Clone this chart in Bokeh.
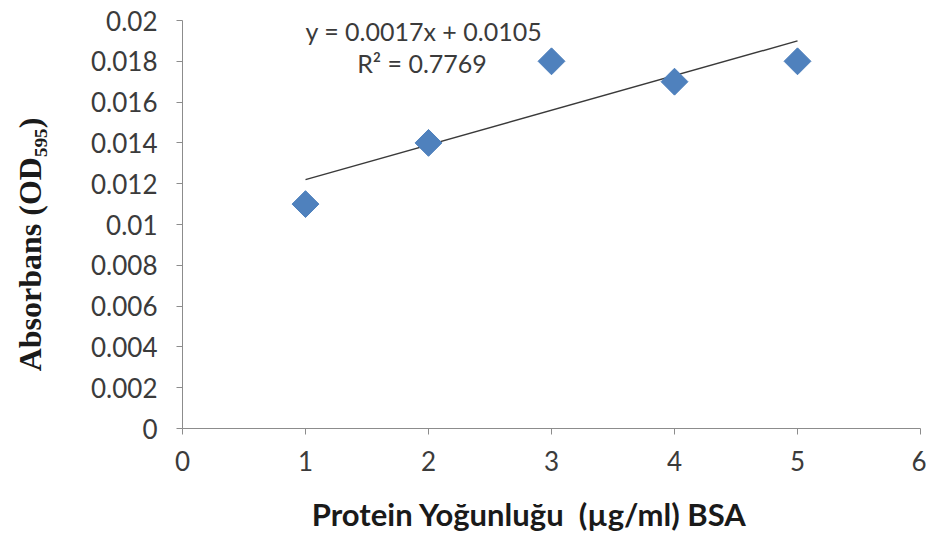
import numpy as np
from bokeh.plotting import figure
from bokeh.models import Range1d, FixedTicker, Label
from bokeh.embed import file_html
from bokeh.resources import INLINE

# ---- data ----
concentration = [1, 2, 3, 4, 5]
absorbance = [0.011, 0.014, 0.018, 0.017, 0.018]

x_ticks = [0, 1, 2, 3, 4, 5, 6]
y_ticks = [0, 0.002, 0.004, 0.006, 0.008, 0.01, 0.012, 0.014, 0.016, 0.018, 0.02]
y_tick_labels = ["0", "0.002", "0.004", "0.006", "0.008", "0.01",
                 "0.012", "0.014", "0.016", "0.018", "0.02"]

x_title = "Protein Yoğunluğu\u00a0 (µg/ml) BSA"
y_title = "Absorbans (OD₅₉₅)"

# ---- linear fit (trendline) ----
xs = np.array(concentration, dtype=float)
ys = np.array(absorbance, dtype=float)
slope, intercept = np.polyfit(xs, ys, 1)
pred = slope * xs + intercept
r2 = 1 - np.sum((ys - pred) ** 2) / np.sum((ys - ys.mean()) ** 2)
eq_text = f"y = {slope:.4f}x + {intercept:.4f}"
r2_text = f"R² = {r2:.4f}"

TEXT = "#3b3b3b"
AXIS = "#8c8c8c"
PAD = "\u00a0"

p = figure(width=926, height=535, output_backend="svg", toolbar_location=None,
           x_range=Range1d(0, 6), y_range=Range1d(0, 0.02),
           min_border_left=182, min_border_right=6, min_border_top=20,
           min_border_bottom=107)
p.outline_line_color = None
p.xgrid.visible = False
p.ygrid.visible = False

line_x = np.array([xs.min(), xs.max()])
p.line(line_x, slope * line_x + intercept, line_color="#3a3a3a", line_width=1.5)
p.scatter(concentration, absorbance, marker="square", angle=np.pi / 4, size=19,
          fill_color="#4F81BD", line_color="#4F81BD")

for ax in (p.xaxis[0], p.yaxis[0]):
    ax.axis_line_color = AXIS
    ax.major_tick_line_color = AXIS
    ax.major_tick_out = 6
    ax.major_tick_in = 0
    ax.minor_tick_line_color = None
    ax.major_label_text_font = "Lato"
    ax.major_label_text_font_size = "26px"
    ax.major_label_text_color = TEXT

p.xaxis.ticker = FixedTicker(ticks=x_ticks)
p.yaxis.ticker = FixedTicker(ticks=y_ticks)
p.yaxis.major_label_overrides = {t: l for t, l in zip(y_ticks, y_tick_labels)}
p.xaxis.major_label_standoff = 16
p.yaxis.major_label_standoff = 19

# trailing no-break spaces shift the centred titles to match the reference
p.xaxis.axis_label = x_title + PAD * 6
p.xaxis.axis_label_text_font = "Lato"
p.xaxis.axis_label_text_font_style = "bold"
p.xaxis.axis_label_text_font_size = "31px"
p.xaxis.axis_label_text_color = "#1a1a1a"
p.xaxis.axis_label_standoff = 21

p.yaxis.axis_label = y_title + PAD * 5
p.yaxis.axis_label_text_font = "Liberation Serif"
p.yaxis.axis_label_text_font_style = "bold"
p.yaxis.axis_label_text_font_size = "32px"
p.yaxis.axis_label_text_color = "#1a1a1a"
p.yaxis.axis_label_standoff = 40

p.add_layout(Label(x=1.0, y=0.0195, text=eq_text, text_font="Lato",
                   text_font_size="25px", text_color=TEXT,
                   text_baseline="middle", text_align="left"))
p.add_layout(Label(x=1.42, y=0.0179, text=r2_text, text_font="Lato",
                   text_font_size="25px", text_color=TEXT,
                   text_baseline="middle", text_align="left"))

open("out.html", "w").write(file_html(p, INLINE))
